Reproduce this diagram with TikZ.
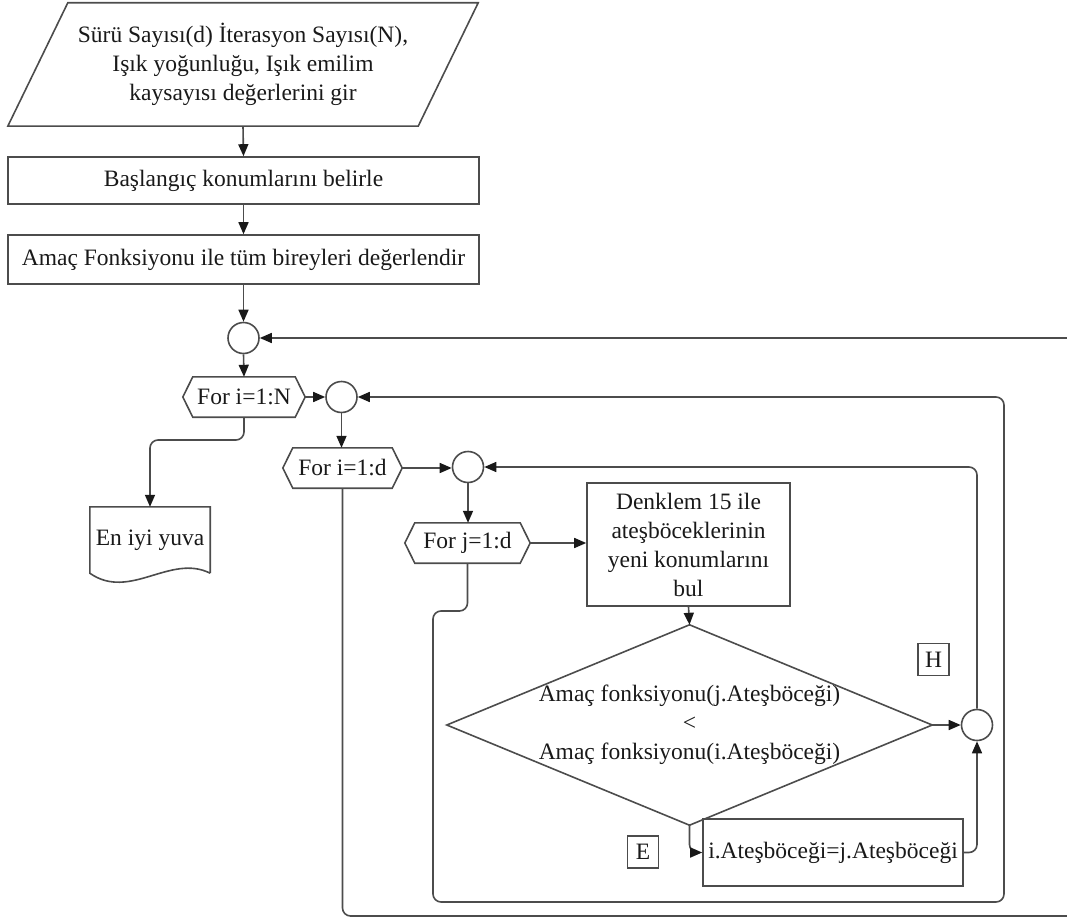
\documentclass[tikz,border=0pt]{standalone}
\usepackage{fontspec}
\setmainfont{Liberation Serif}
\usetikzlibrary{arrows.meta,calc}
\newcommand{\hexframe}[1]{%
  \draw[ln] (#1.west) -- ([xshift=10pt]#1.north west) -- ([xshift=-10pt]#1.north east)
    -- (#1.east) -- ([xshift=-10pt]#1.south east) -- ([xshift=10pt]#1.south west) -- cycle;}
\begin{document}
\begin{tikzpicture}[x=1pt,y=-1pt,
  every node/.style={font=\fontsize{23.5}{29}\selectfont, text=black!90, inner sep=0pt, align=center},
  ln/.style={draw=black!70, line width=1.6pt},
  arr/.style={ln, rounded corners=8pt, -{Triangle[length=12pt,width=10pt,color=black!90,fill=black!90]}},
  procbox/.style={ln, rectangle, minimum width=#1},
  plainbox/.style={rectangle, minimum width=#1},
  hexn/.style={rectangle, minimum width=#1, minimum height=40pt},
  joint/.style={ln, circle, minimum size=31pt},
  tagbox/.style={ln, rectangle, minimum width=31pt, minimum height=32pt}
  ]
\useasboundingbox (0,0) rectangle (1067,920);
\clip (0,0) rectangle (1067,920);

% input parallelogram
\node[plainbox=410pt, minimum height=123pt] (inp) at (243,64.5)
  {Sürü Sayısı(d) İterasyon Sayısı(N),\\ Işık yoğunluğu, Işık emilim\\ kaysayısı değerlerini gir};
\draw[ln] ([xshift=30pt]inp.north west) -- ([xshift=30pt]inp.north east)
  -- ([xshift=-30pt]inp.south east) -- ([xshift=-30pt]inp.south west) -- cycle;

\node[procbox=471pt, minimum height=47pt] (b2) at (243.5,180.5) {Başlangıç konumlarını belirle};
\node[procbox=471pt, minimum height=49pt] (b3) at (243.5,259.5) {Amaç Fonksiyonu ile tüm bireyleri değerlendir};

\node[joint] (c1) at (243.5,338) {};
\node[hexn=122pt] (f1) at (244,397) {For i=1:N};
\hexframe{f1}
\node[joint] (c2) at (341.5,397) {};
\node[hexn=119pt] (f2) at (342.5,468) {For i=1:d};
\hexframe{f2}
\node[joint] (c3) at (468,467) {};
\node[hexn=125pt] (f3) at (467.5,543) {For j=1:d};
\hexframe{f3}

\node[procbox=203pt, minimum height=123pt] (b4) at (688.5,544.5)
  {Denklem 15 ile\\ ateşböceklerinin\\ yeni konumlarını\\ bul};

\node[plainbox=485pt, minimum height=200pt] (dia) at (689.5,725)
  {Amaç fonksiyonu(j.Ateşböceği)\\ <\\ Amaç fonksiyonu(i.Ateşböceği)};
\draw[ln] (dia.north) -- (dia.east) -- (dia.south) -- (dia.west) -- cycle;

\node[procbox=260pt, minimum height=67pt] (b5) at (833,852.5) {i.Ateşböceği=j.Ateşböceği};
\node[joint] (c4) at (977,725) {};
\node[tagbox] (tE) at (643,852) {E};
\node[tagbox] (tH) at (933.5,659.5) {H};

% output document
\node[plainbox=120pt, minimum height=66pt] (doc) at (150,540) {En iyi yuva};
\draw[ln] (doc.south east) -- (doc.north east) -- (doc.north west) -- (doc.south west)
  .. controls ($(doc.south west)+(40,28)$) and ($(doc.south east)+(-40,-20)$) .. (doc.south east);

% connectors
\draw[arr] (inp.south) -- (b2.north);
\draw[arr] (b2.south) -- (b3.north);
\draw[arr] (b3.south) -- (c1.north);
\draw[arr] (c1.south) -- (f1.north);
\draw[arr] (f1.east) -- (c2.west);
\draw[arr] (c2.south) -- (c2.south |- f2.north);
\draw[arr] (f2.east) -- (f2.east -| c3.west);
\draw[arr] (c3.south) -- (c3.south |- f3.north);
\draw[arr] (f3.east) -- (f3.east -| b4.west);
\draw[arr] (b4.south) -- (dia.north);
\draw[arr] (dia.east) -- (c4.west);
\draw[arr] (dia.south) |- (b5.west);
\draw[arr] (b5.east) -| (c4.south);
\draw[arr] (c4.north) |- (c3.east);

\coordinate (j1) at (433,611);
\coordinate (j2) at (1004,902);
\draw[arr] (f3.south) -- (f3.south |- j1) -- (j1) -- (j1 |- j2) -- (j2) -- (j2 |- c2.east) -- (c2.east);

\coordinate (k1) at (1082,916);
\draw[arr] (f2.south) -- (f2.south |- k1) -- (k1) -- (k1 |- c1.east) -- (c1.east);

\coordinate (m1) at (150,440);
\draw[arr] (f1.south) -- (f1.south |- m1) -- (m1) -- (doc.north);
\end{tikzpicture}
\end{document}
